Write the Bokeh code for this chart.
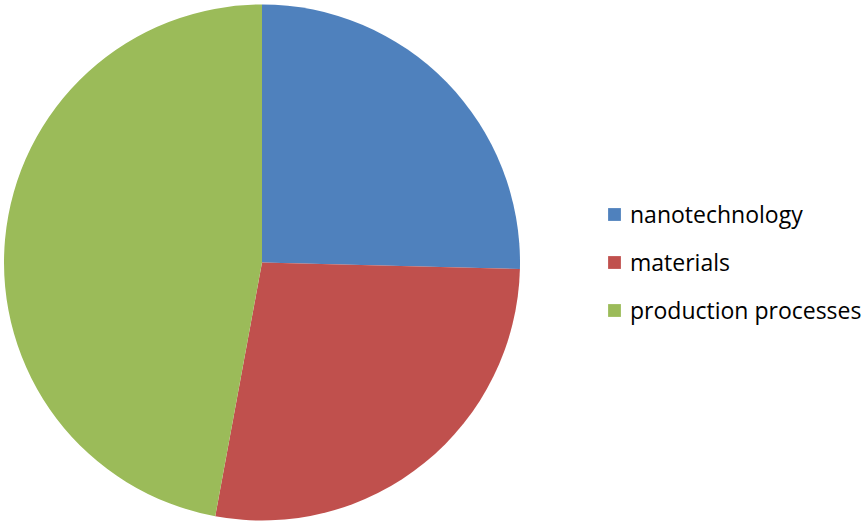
import math
from bokeh.plotting import figure
from bokeh.models import Range1d, Legend, LegendItem, ColumnDataSource
from bokeh.embed import file_html
from bokeh.resources import INLINE

categories = ["nanotechnology", "materials", "production processes"]
values = [25.4, 27.5, 47.1]
colors = ["#4F81BD", "#C0504D", "#9BBB59"]

W, H = 863, 522
cx, cy, r = 261.5, H - 262, 258

total = sum(values)
starts, ends = [], []
a = math.pi / 2
for v in values:
    starts.append(a)
    a = a - v / total * 2 * math.pi
    ends.append(a)

p = figure(width=W, height=H, output_backend="svg", toolbar_location=None,
           x_range=Range1d(0, W), y_range=Range1d(0, H), min_border=0)
p.axis.visible = False
p.grid.visible = False
p.outline_line_color = None

renderers = []
for i in range(3):
    rr = p.wedge(x=cx, y=cy, radius=r, start_angle=starts[i], end_angle=ends[i],
                 direction="clock", fill_color=colors[i], line_color=None)
    renderers.append(rr)

items = [LegendItem(label=categories[i], renderers=[renderers[i]]) for i in range(3)]
legend = Legend(items=items, location=(606, 196), orientation="vertical",
                glyph_width=16, glyph_height=16, label_height=32, spacing=16,
                label_standoff=8, padding=0, margin=0,
                border_line_color=None, background_fill_alpha=0,
                label_text_font="Open Sans", label_text_font_size="23px",
                label_text_color="#000000")
p.add_layout(legend, "center")

open("out.html", "w").write(file_html(p, INLINE))
